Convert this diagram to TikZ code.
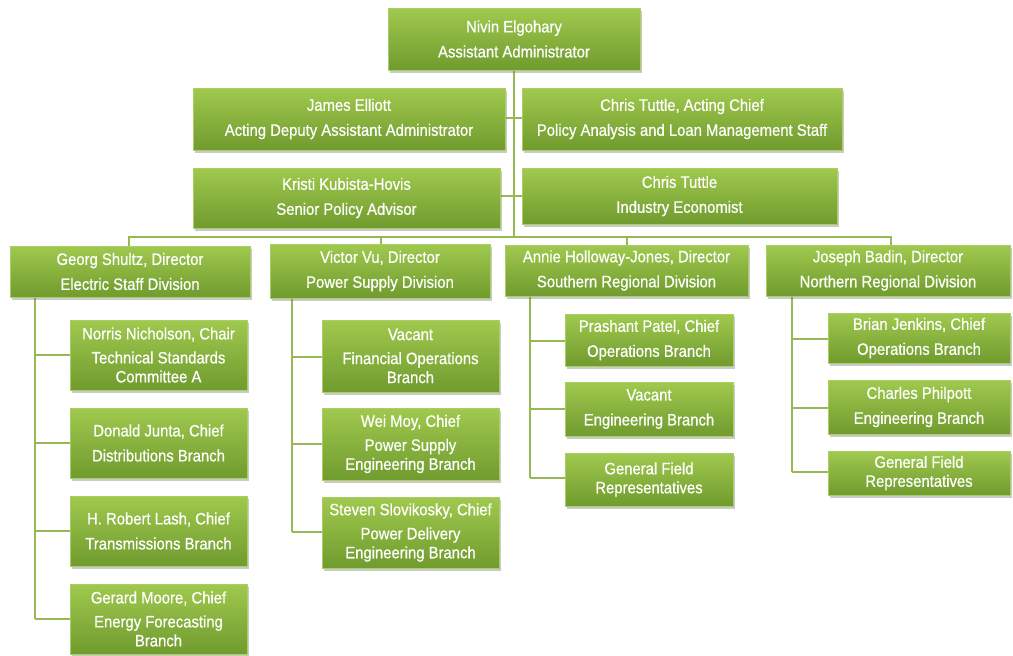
\documentclass[tikz,border=0pt]{standalone}
\usepackage{fontspec}
\setmainfont{Liberation Sans}[FakeStretch=0.9,FakeBold=0.6]
\usetikzlibrary{shadows}
\definecolor{gtop}{RGB}{160,201,78}
\definecolor{gbot}{RGB}{112,155,46}
\definecolor{gedge}{RGB}{170,205,100}
\definecolor{conn}{RGB}{150,185,85}
\tikzset{
  box/.style={draw=gedge, line width=0.8pt, top color=gtop, bottom color=gbot,
    text=white, align=center, inner sep=2pt,
    font=\fontsize{16.5}{19}\selectfont,
    drop shadow={shadow xshift=1.5pt, shadow yshift=-2.5pt, opacity=0.35, fill=black!60}},
  link/.style={draw=conn, line width=1.6pt}
}
\newcommand{\bx}[7]{% name, x1,y1,x2,y2, text
  \node[box, minimum width={(#4-#2)*1pt}, minimum height={(#5-#3)*1pt}] (#1) at ({(#2+#4)/2},{(#3+#5)/2}) {#6};}
\begin{document}
\begin{tikzpicture}[x=1pt,y=-1pt]
\useasboundingbox (0,0) rectangle (1013,656);
% connectors first
\coordinate (c0) at (514,70);
\coordinate (cb) at (514,237);
\draw[link] (c0) -- (cb);
\draw[link] (193,118) -- (842,118);
\draw[link] (193,196) -- (837,196);
\draw[link] (129,248) |- (891,237) -- (891,248);
\draw[link] (381,237) -- (381,248);
\draw[link] (627,237) -- (627,248);
% Georg children
\draw[link] (35,297) -- (35,619);
\foreach \y in {355,443,531,619} \draw[link] (35,\y) -- (70,\y);
% Victor children
\draw[link] (292,298) -- (292,532);
\foreach \y in {357,444,532} \draw[link] (292,\y) -- (322,\y);
% Annie children
\draw[link] (530,296) -- (530,478);
\foreach \y in {341,409,478} \draw[link] (530,\y) -- (565,\y);
% Joseph children
\draw[link] (792,296) -- (792,472);
\foreach \y in {339,408,472} \draw[link] (792,\y) -- (828,\y);

% top
\bx{top}{388}{8}{640}{70}{Nivin Elgohary\\[6pt]Assistant Administrator}{}
\bx{james}{193}{88}{505}{150}{James Elliott\\[6pt]Acting Deputy Assistant Administrator}{}
\bx{chris1}{522}{88}{842}{150}{Chris Tuttle, Acting Chief\\[6pt]Policy Analysis and Loan Management Staff}{}
\bx{kristi}{193}{168}{500}{228}{Kristi Kubista-Hovis\\[6pt]Senior Policy Advisor}{}
\bx{chris2}{522}{168}{837}{224}{Chris Tuttle\\[6pt]Industry Economist}{}
% divisions
\bx{georg}{10}{246}{250}{297}{Georg Shultz, Director\\[6pt]Electric Staff Division}{}
\bx{victor}{270}{244}{490}{298}{Victor Vu, Director\\[6pt]Power Supply Division}{}
\bx{annie}{505}{245}{748}{296}{Annie Holloway-Jones, Director\\[6pt]Southern Regional Division}{}
\bx{joseph}{766}{245}{1010}{296}{Joseph Badin, Director\\[6pt]Northern Regional Division}{}
% Georg children
\bx{norris}{70}{320}{247}{390}{Norris Nicholson, Chair\\[5pt]Technical Standards\\Committee A}{}
\bx{donald}{70}{408}{247}{478}{Donald Junta, Chief\\[6pt]Distributions Branch}{}
\bx{robert}{70}{496}{247}{566}{H. Robert Lash, Chief\\[6pt]Transmissions Branch}{}
\bx{gerard}{70}{584}{247}{654}{Gerard Moore, Chief\\[5pt]Energy Forecasting\\Branch}{}
% Victor children
\bx{fin}{322}{320}{499}{392}{Vacant\\[5pt]Financial Operations\\Branch}{}
\bx{wei}{322}{408}{499}{480}{Wei Moy, Chief\\[5pt]Power Supply\\Engineering Branch}{}
\bx{steven}{322}{497}{499}{568}{Steven Slovikosky, Chief\\[5pt]Power Delivery\\Engineering Branch}{}
% Annie children
\bx{prashant}{565}{314}{733}{366}{Prashant Patel, Chief\\[6pt]Operations Branch}{}
\bx{vac2}{565}{382}{733}{436}{Vacant\\[6pt]Engineering Branch}{}
\bx{gfr1}{565}{453}{733}{506}{General Field\\Representatives}{}
% Joseph children
\bx{brian}{828}{313}{1010}{363}{Brian Jenkins, Chief\\[6pt]Operations Branch}{}
\bx{charles}{828}{380}{1010}{434}{Charles Philpott\\[6pt]Engineering Branch}{}
\bx{gfr2}{828}{451}{1010}{495}{General Field\\Representatives}{}
\end{tikzpicture}
\end{document}
